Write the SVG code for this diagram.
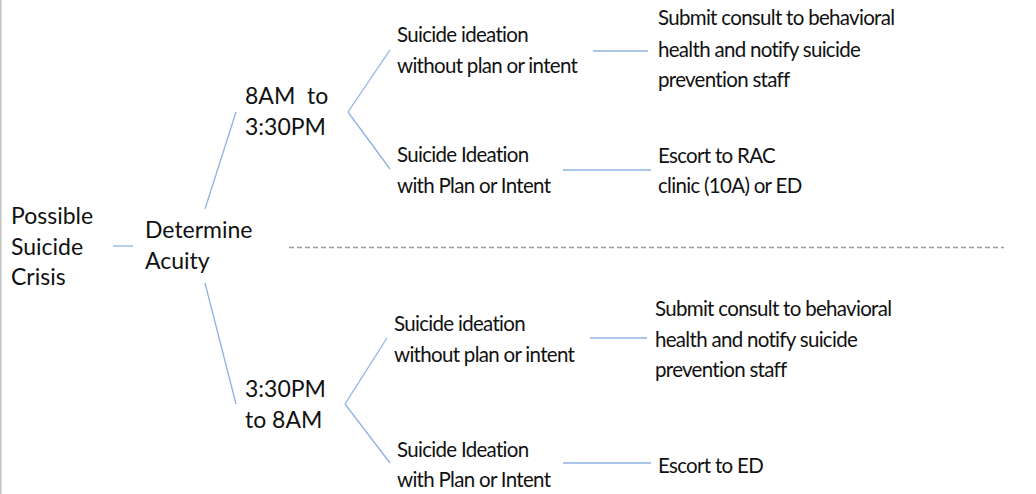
<svg xmlns="http://www.w3.org/2000/svg" width="1036" height="494" viewBox="0 0 1036 494">
<style>
text{font-family:Lato,"Open Sans","Liberation Sans",sans-serif;font-size:20.5px;letter-spacing:-0.7px;fill:#111}
.big text{font-size:23px;letter-spacing:0}
.c line{stroke:#8db3e2;stroke-width:1.3;fill:none}
.dash{stroke:#9a9a9a;stroke-width:1.3;stroke-dasharray:5 3}
</style>
<rect width="1036" height="494" fill="#fff"/>
<line x1="0.75" y1="0" x2="0.75" y2="494" stroke="#c4c4c4" stroke-width="1.5"/>
<g class="c" id="connectors">
<line x1="113" y1="246" x2="133" y2="246"/>
<line x1="205" y1="209" x2="236" y2="112"/>
<line x1="205" y1="283" x2="236" y2="404"/>
<line x1="390" y1="50" x2="348" y2="112"/>
<line x1="348" y1="112" x2="390" y2="169"/>
<line x1="387" y1="338" x2="345" y2="404"/>
<line x1="345" y1="404" x2="390" y2="463"/>
<line x1="593" y1="51" x2="648" y2="51"/>
<line x1="563" y1="170" x2="651" y2="170"/>
<line x1="590" y1="338" x2="647" y2="338"/>
<line x1="563" y1="463" x2="651" y2="463"/>
</g>
<line class="dash" x1="289" y1="247.5" x2="1004" y2="247.5"/>
<g class="big">
<g id="n-crisis"><text x="11" y="224">Possible</text><text x="11" y="255">Suicide</text><text x="11" y="285">Crisis</text></g>
<g id="n-acuity"><text x="145" y="238">Determine</text><text x="145" y="269">Acuity</text></g>
<g id="n-day"><text x="245" y="104" xml:space="preserve">8AM  to</text><text x="245" y="135">3:30PM</text></g>
<g id="n-night"><text x="245" y="397">3:30PM</text><text x="245" y="428">to 8AM</text></g>
</g>
<g id="n-day-noplan"><text x="397" y="42">Suicide ideation</text><text x="397" y="73">without plan or intent</text></g>
<g id="n-day-plan"><text x="397" y="162">Suicide Ideation</text><text x="397" y="193">with Plan or Intent</text></g>
<g id="n-day-consult"><text x="658" y="25">Submit consult to behavioral</text><text x="658" y="57">health and notify suicide</text><text x="658" y="87">prevention staff</text></g>
<g id="n-day-escort"><text x="658" y="163">Escort to RAC</text><text x="658" y="193">clinic (10A) or ED</text></g>
<g id="n-night-noplan"><text x="394" y="331">Suicide ideation</text><text x="394" y="362">without plan or intent</text></g>
<g id="n-night-consult"><text x="655" y="316">Submit consult to behavioral</text><text x="655" y="347">health and notify suicide</text><text x="655" y="377">prevention staff</text></g>
<g id="n-night-plan"><text x="397" y="457">Suicide Ideation</text><text x="397" y="487">with Plan or Intent</text></g>
<g id="n-night-escort"><text x="658" y="473">Escort to ED</text></g>
</svg>
